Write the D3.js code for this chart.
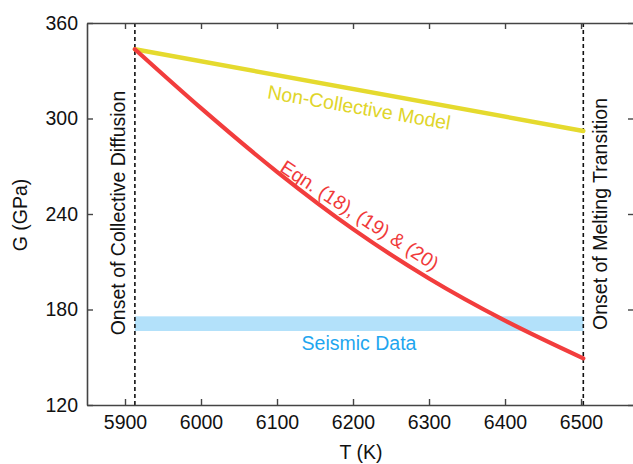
<!DOCTYPE html>
<html>
<head>
<meta charset="utf-8">
<script src="https://cdn.jsdelivr.net/npm/d3@7"></script>
<style>
  html, body { margin: 0; padding: 0; background: #fff; }
  svg { display: block; font-family: "Liberation Sans", Arial, Helvetica, sans-serif; }
</style>
</head>
<body>
<svg id="chart" width="633" height="464"></svg>
<script>
// ---- data ----
const temps = [5913, 6000, 6100, 6200, 6300, 6400, 6503];
const eqnG = [343.5, 306.5, 266.5, 230.5, 199.5, 173.0, 149.3];
const nonCollT = [5913, 6503];
const nonCollG = [343.5, 292.2];
const seismicRange = [166.5, 175.7];
const onsetT = [5913, 6503];
const xTicks = [5900, 6000, 6100, 6200, 6300, 6400, 6500];
const yTicks = [120, 180, 240, 300, 360];

// ---- layout ----
const svg = d3.select("#chart");
const L = 87, R = 634, T = 23, B = 405;
const x = d3.scaleLinear().domain([5850, 6569.7]).range([L, R]);
const y = d3.scaleLinear().domain([120, 360]).range([B, T]);
const FS = "19.5px";

// seismic band
svg.append("rect")
  .attr("x", x(onsetT[0])).attr("width", x(onsetT[1]) - x(onsetT[0]))
  .attr("y", y(seismicRange[1])).attr("height", y(seismicRange[0]) - y(seismicRange[1]))
  .attr("fill", "#b3e1fa");

// dashed vertical lines
onsetT.forEach(t => {
  svg.append("line")
    .attr("x1", x(t)).attr("x2", x(t)).attr("y1", T).attr("y2", B)
    .attr("stroke", "#111").attr("stroke-width", 1.6)
    .attr("stroke-dasharray", "4,3");
});

// non-collective line
const yl = d3.line().x(d => x(d[0])).y(d => y(d[1]));
svg.append("path")
  .attr("d", yl(nonCollT.map((t, i) => [t, nonCollG[i]])))
  .attr("fill", "none").attr("stroke", "#e5da2e").attr("stroke-width", 4.5)
  .attr("stroke-linecap", "round");

// eqn curve
const cl = d3.line().x(d => x(d[0])).y(d => y(d[1])).curve(d3.curveMonotoneX);
svg.append("path")
  .attr("d", cl(temps.map((t, i) => [t, eqnG[i]])))
  .attr("fill", "none").attr("stroke", "#f23d3d").attr("stroke-width", 4.2)
  .attr("stroke-linecap", "round");

// axes
function styleAxis(g) {
  g.selectAll(".domain").attr("stroke", "#444").attr("stroke-width", 1.6);
  g.selectAll(".tick line").attr("stroke", "#444").attr("stroke-width", 1.4);
  g.selectAll(".tick text").attr("fill", "#111").style("font-size", FS)
    .style("font-family", '"Liberation Sans", Arial, Helvetica, sans-serif');
}
svg.append("g").attr("transform", `translate(0,${B})`)
  .call(d3.axisBottom(x).tickValues(xTicks).tickFormat(d3.format("d")).tickSizeInner(-6).tickSizeOuter(0).tickPadding(10))
  .call(styleAxis);
svg.append("g").attr("transform", `translate(0,${T})`)
  .call(d3.axisTop(x).tickValues(xTicks).tickFormat("").tickSizeInner(-6).tickSizeOuter(0))
  .call(styleAxis);
svg.append("g").attr("transform", `translate(${L},0)`)
  .call(d3.axisLeft(y).tickValues(yTicks).tickFormat(d3.format("d")).tickSizeInner(-6).tickSizeOuter(0).tickPadding(9))
  .call(styleAxis);
svg.append("g").attr("transform", `translate(${R},0)`)
  .call(d3.axisRight(y).tickValues(yTicks).tickFormat("").tickSizeInner(-6).tickSizeOuter(0))
  .call(styleAxis);

// axis titles
svg.append("text").attr("transform", "translate(27,215) rotate(-90)")
  .attr("text-anchor", "middle").style("font-size", FS).attr("fill", "#111").text("G (GPa)");
svg.append("text").attr("x", 361).attr("y", 459)
  .attr("text-anchor", "middle").style("font-size", FS).attr("fill", "#111").text("T (K)");

// annotations
svg.append("text").attr("transform", "translate(125,213) rotate(-90)")
  .attr("text-anchor", "middle").style("font-size", FS).attr("fill", "#111")
  .text("Onset of Collective Diffusion");
svg.append("text").attr("transform", "translate(607,214) rotate(-90)")
  .attr("text-anchor", "middle").style("font-size", FS).attr("fill", "#111")
  .text("Onset of Melting Transition");
svg.append("text").attr("x", 359).attr("y", 350)
  .attr("text-anchor", "middle").style("font-size", FS).attr("fill", "#1fa6ef")
  .text("Seismic Data");
svg.append("text").attr("transform", "translate(358,114) rotate(9.8)")
  .attr("text-anchor", "middle").style("font-size", FS).attr("fill", "#e0d52a")
  .text("Non-Collective Model");
svg.append("text").attr("transform", "translate(356,221) rotate(33)")
  .attr("text-anchor", "middle").style("font-size", FS).attr("fill", "#f03a3a")
  .text("Eqn. (18), (19) & (20)");
</script>
</body>
</html>
